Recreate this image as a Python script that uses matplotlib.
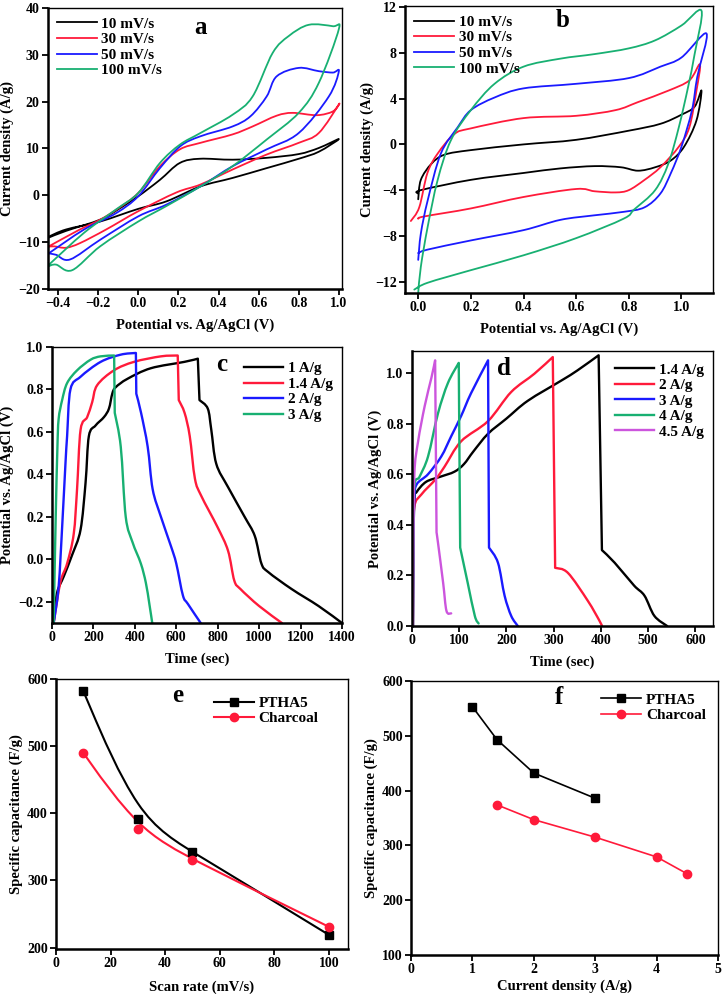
import numpy as np
import matplotlib
matplotlib.use("Agg")
import matplotlib.pyplot as plt
from matplotlib.path import Path
from matplotlib.patches import PathPatch
from matplotlib.lines import Line2D

plt.rcParams['font.family'] = ['Liberation Serif', 'DejaVu Serif']
plt.rcParams['font.weight'] = 'bold'
plt.rcParams['axes.labelweight'] = 'bold'

BLACK = '#000000'
RED = '#ff1a3a'
BLUE = '#1a1aff'
GREEN = '#18b072'
MAGENTA = '#cc55dd'

# ---------- panel a : CV of PTHA5 (potential V, current A/g) ----------
a_labels = ['10 mV/s', '30 mV/s', '50 mV/s', '100 mV/s']
a10_fwd_e = [-0.45, -0.36, -0.19, -0.1, 0.0, 0.108, 0.207, 0.307, 0.47, 0.64, 0.8, 0.9, 1.0]
a10_fwd_i = [-9.1, -7.6, -5.2, -3.0, -0.2, 3.3, 6.9, 7.8, 7.6, 8.0, 8.8, 10.1, 12.0]
a10_rev_e = [0.9, 0.8, 0.64, 0.47, 0.31, 0.14, 0.0, -0.19, -0.36, -0.45]
a10_rev_i = [9.3, 7.8, 5.8, 3.7, 1.9, -1.3, -2.9, -5.6, -7.3, -8.9]

a30_fwd_e = [-0.45, -0.3, -0.19, -0.1, 0.0, 0.108, 0.207, 0.31, 0.47, 0.57, 0.69, 0.77, 0.89, 0.97, 1.0]
a30_fwd_i = [-11.0, -7.5, -5.2, -2.8, 0.5, 6.2, 9.8, 11.2, 13.0, 14.7, 17.0, 17.6, 17.1, 17.9, 19.4]
a30_rev_e = [0.9, 0.8, 0.64, 0.47, 0.31, 0.19, 0.0, -0.16, -0.29, -0.36, -0.42, -0.45]
a30_rev_i = [13.3, 11.2, 8.7, 5.5, 2.3, 0.6, -3.4, -7.3, -10.2, -11.2, -10.9, -11.0]

a50_fwd_e = [-0.45, -0.27, -0.11, 0.0, 0.108, 0.21, 0.31, 0.47, 0.56, 0.64, 0.69, 0.8, 0.9, 0.97, 1.0]
a50_fwd_i = [-12.5, -7.3, -3.8, -0.2, 5.8, 10.5, 12.6, 14.7, 16.9, 21.1, 25.4, 27.2, 26.5, 26.2, 26.5]
a50_rev_e = [0.95, 0.8, 0.64, 0.47, 0.31, 0.14, 0.0, -0.19, -0.34, -0.41, -0.45]
a50_rev_i = [21.1, 13.3, 9.8, 6.2, 1.9, -2.0, -4.5, -9.5, -13.7, -12.7, -12.4]

a100_fwd_e = [-0.45, -0.27, -0.11, 0.0, 0.108, 0.207, 0.31, 0.47, 0.57, 0.67, 0.75, 0.85, 0.97, 1.0]
a100_fwd_i = [-15.0, -8.0, -3.0, 0.5, 6.9, 10.8, 13.3, 17.2, 21.1, 30.4, 34.0, 36.4, 36.1, 35.5]
a100_rev_e = [0.9, 0.8, 0.64, 0.47, 0.31, 0.14, 0.0, -0.19, -0.33, -0.41, -0.45]
a100_rev_i = [24.0, 17.6, 11.9, 6.2, 1.9, -2.3, -5.6, -10.9, -16.0, -14.8, -15.2]

# ---------- panel b : CV of charcoal ----------
b10_fwd_e = [0.0, 0.01, 0.05, 0.1, 0.2, 0.4, 0.6, 0.8, 0.92, 1.0, 1.05, 1.076]
b10_fwd_i = [-4.8, -3.1, -1.7, -0.9, -0.5, 0.0, 0.4, 1.2, 1.8, 2.6, 3.3, 4.7]
b10_rev_e = [1.057, 1.01, 0.96, 0.9, 0.835, 0.77, 0.67, 0.54, 0.4, 0.2, 0.01, 0.0]
b10_rev_i = [2.1, -0.2, -1.4, -2.0, -2.3, -2.0, -1.9, -2.1, -2.5, -3.1, -4.0, -4.3]

b30_fwd_e = [-0.028, 0.004, 0.035, 0.074, 0.137, 0.2, 0.4, 0.6, 0.75, 0.835, 0.95, 1.03, 1.07]
b30_fwd_i = [-6.7, -5.5, -2.5, -0.8, 0.9, 1.4, 2.3, 2.5, 3.0, 3.7, 4.7, 5.6, 7.0]
b30_rev_e = [1.057, 1.03, 0.99, 0.92, 0.86, 0.8, 0.75, 0.67, 0.6, 0.4, 0.2, 0.023, 0.0]
b30_rev_i = [4.7, 1.5, -0.2, -2.0, -3.1, -4.0, -4.2, -4.1, -3.9, -4.6, -5.6, -6.3, -6.5]

b50_fwd_e = [0.0, 0.01, 0.036, 0.086, 0.15, 0.2, 0.29, 0.4, 0.6, 0.8, 0.92, 1.0, 1.095]
b50_fwd_i = [-10.1, -7.8, -4.9, -0.8, 1.5, 3.0, 4.1, 4.9, 5.3, 5.8, 6.8, 7.6, 9.7]
b50_rev_e = [1.06, 1.04, 1.0, 0.96, 0.92, 0.86, 0.78, 0.67, 0.54, 0.4, 0.2, 0.036, 0.0]
b50_rev_i = [5.9, 3.0, -0.2, -2.5, -4.3, -5.5, -5.9, -6.2, -6.6, -7.5, -8.4, -9.2, -9.5]

b100_fwd_e = [0.0, 0.01, 0.036, 0.074, 0.124, 0.2, 0.29, 0.4, 0.54, 0.67, 0.8, 0.9, 1.0, 1.076]
b100_fwd_i = [-13.0, -10.7, -7.2, -3.1, 0.35, 3.0, 5.3, 6.8, 7.5, 7.9, 8.4, 9.1, 10.4, 11.7]
b100_rev_e = [1.05, 1.025, 0.99, 0.95, 0.9, 0.82, 0.78, 0.6, 0.4, 0.2, 0.036, -0.015]
b100_rev_i = [7.9, 5.0, 1.5, -1.7, -4.0, -5.7, -6.5, -8.2, -9.7, -11.0, -12.1, -12.7]

# ---------- panel c : GCD of PTHA5 (time s, potential V) ----------
c_labels = ['1 A/g', '1.4 A/g', '2 A/g', '3 A/g']
c1_t = [8, 24, 57, 97, 138, 162, 178, 210, 251, 275, 291, 307, 364, 477, 639, 704,
        712, 752, 769, 793, 850, 930, 979, 1011, 1044, 1157, 1287, 1400]
c1_v = [-0.3, -0.16, -0.08, 0.02, 0.14, 0.36, 0.58, 0.63, 0.67, 0.71, 0.78, 0.81, 0.85, 0.90, 0.93, 0.945,
        0.75, 0.71, 0.61, 0.45, 0.34, 0.20, 0.11, -0.02, -0.06, -0.14, -0.22, -0.3]
c14_t = [8, 40, 73, 105, 121, 138, 170, 194, 218, 299, 396, 526, 607,
         612, 640, 665, 690, 720, 800, 850, 880, 910, 1000, 1110]
c14_v = [-0.3, -0.11, -0.02, 0.12, 0.33, 0.61, 0.67, 0.74, 0.82, 0.89, 0.93, 0.956, 0.96,
         0.75, 0.69, 0.58, 0.38, 0.30, 0.15, 0.04, -0.10, -0.14, -0.22, -0.3]
c2_t = [8, 32, 50, 65, 73, 89, 138, 235, 332, 405,
        407, 430, 462, 486, 526, 575, 600, 632, 656, 718]
c2_v = [-0.3, -0.13, 0.17, 0.45, 0.58, 0.80, 0.86, 0.93, 0.964, 0.972,
        0.78, 0.69, 0.53, 0.33, 0.20, 0.06, -0.02, -0.17, -0.21, -0.3]
c3_t = [8, 18, 26, 32, 49, 73, 121, 186, 235, 300,
        303, 332, 356, 389, 429, 453, 470, 484]
c3_v = [-0.3, 0.2, 0.52, 0.66, 0.75, 0.83, 0.89, 0.94, 0.956, 0.96,
        0.69, 0.53, 0.20, 0.08, -0.02, -0.11, -0.21, -0.3]

# ---------- panel d : GCD of charcoal ----------
d_labels = ['1.4 A/g', '2 A/g', '3 A/g', '4 A/g', '4.5 A/g']
d14_t = [2, 3, 5, 10, 30, 60, 90, 110, 130, 161, 200, 245, 316, 350, 395,
         402, 429, 470, 492, 513, 540]
d14_v = [0.0, 0.3, 0.5, 0.53, 0.57, 0.59, 0.61, 0.64, 0.69, 0.76, 0.82, 0.89, 0.97, 1.01, 1.07,
         0.30, 0.25, 0.16, 0.12, 0.04, 0.0]
d2_t = [2, 3, 5, 20, 50, 69, 104, 161, 210, 259, 298,
        303, 330, 372, 397, 402]
d2_v = [0.0, 0.3, 0.47, 0.52, 0.58, 0.63, 0.73, 0.81, 0.925, 0.997, 1.063,
        0.23, 0.21, 0.10, 0.02, 0.0]
d3_t = [2, 3, 5, 10, 34, 62, 83, 104, 125, 161,
        163, 182, 196, 210, 224]
d3_v = [0.0, 0.3, 0.5, 0.56, 0.60, 0.67, 0.75, 0.83, 0.92, 1.05,
        0.31, 0.25, 0.12, 0.04, 0.0]
d4_t = [2, 3, 5, 16, 34, 55, 76, 99,
        102, 118, 133, 141]
d4_v = [0.0, 0.3, 0.55, 0.59, 0.67, 0.84, 0.96, 1.04,
        0.31, 0.17, 0.04, 0.01]
d45_t = [2, 3, 5, 13, 27, 41, 49,
         52, 55, 66, 73, 83]
d45_v = [0.0, 0.3, 0.6, 0.73, 0.87, 0.98, 1.05,
         0.37, 0.33, 0.17, 0.06, 0.05]

# ---------- panel e : capacitance vs scan rate ----------
e_scan = [10, 30, 50, 100]
e_ptha5 = [582, 391, 343, 219]
e_charcoal = [490, 376, 331, 231]

# ---------- panel f : capacitance vs current density ----------
f_ptha5_j = [1, 1.4, 2, 3]
f_ptha5 = [553, 493, 432, 386]
f_charcoal_j = [1.4, 2, 3, 4, 4.5]
f_charcoal = [374, 347, 315, 279, 248]

TICK_FS = 10
LABEL_FS = 10.5
LEG_FS = 11


def style_axes(ax):
    for side in ['left', 'bottom']:
        ax.spines[side].set_linewidth(1.8)
    for side in ['top', 'right']:
        ax.spines[side].set_linewidth(1.0)
    ax.tick_params(direction='out', length=4, width=1.3, labelsize=TICK_FS, pad=2)
    for lab in ax.get_xticklabels() + ax.get_yticklabels():
        lab.set_fontweight('bold')


def bspline_path(xs, ys):
    # uniform cubic B-spline with clamped ends, drawn as Bezier segments
    pts = np.column_stack([xs, ys]).astype(float)
    pts = np.vstack([pts[0], pts[0], pts, pts[-1], pts[-1]])
    verts, codes = [], []
    for k in range(len(pts) - 3):
        A, B, C, D = pts[k], pts[k + 1], pts[k + 2], pts[k + 3]
        if k == 0:
            verts.append((A + 4 * B + C) / 6)
            codes.append(Path.MOVETO)
        verts += [(2 * B + C) / 3, (B + 2 * C) / 3, (B + 4 * C + D) / 6]
        codes += [Path.CURVE4] * 3
    return Path(verts, codes)


def catmull_segments(pts):
    # Catmull-Rom curve through the read points, as Bezier control points
    ext = np.vstack([pts[0], pts, pts[-1]])
    verts = []
    for k in range(1, len(ext) - 2):
        P0, P1, P2, P3 = ext[k - 1], ext[k], ext[k + 1], ext[k + 2]
        verts += [P1 + (P2 - P0) / 6, P2 - (P3 - P1) / 6, P2]
    return verts


def smooth_path(xs, ys):
    pts = np.column_stack([xs, ys]).astype(float)
    verts = [pts[0]] + catmull_segments(pts)
    codes = [Path.MOVETO] + [Path.CURVE4] * (len(verts) - 1)
    return Path(verts, codes)


def gcd_path(ts, vs):
    # smooth charge branch, straight IR drop, smooth discharge branch
    pts = np.column_stack([ts, vs]).astype(float)
    p = int(np.argmax(pts[:, 1]))
    charge, discharge = pts[:p + 1], pts[p + 1:]
    verts = [charge[0]] + catmull_segments(charge)
    codes = [Path.MOVETO] + [Path.CURVE4] * (len(verts) - 1)
    verts.append(discharge[0])
    codes.append(Path.LINETO)
    seg = catmull_segments(discharge)
    verts += seg
    codes += [Path.CURVE4] * len(seg)
    return Path(verts, codes)


fig = plt.figure(figsize=(7.22, 9.94), dpi=100)

ax_a = fig.add_axes([0.0665, 0.7093, 0.407, 0.2827])
ax_b = fig.add_axes([0.561, 0.7052, 0.4266, 0.2887])
ax_c = fig.add_axes([0.072, 0.3732, 0.4017, 0.2777])
ax_d = fig.add_axes([0.5706, 0.3702, 0.4169, 0.2767])
ax_e = fig.add_axes([0.0776, 0.0453, 0.4044, 0.2716])
ax_f = fig.add_axes([0.5693, 0.0392, 0.4252, 0.2757])

leg_kw = dict(frameon=False, handlelength=2.6, handletextpad=0.3,
              labelspacing=0.12, borderaxespad=0.2, prop={'weight': 'bold', 'size': LEG_FS})


def draw_curves(ax, curves, colors, labels, make_path, lw):
    handles = []
    for (x, y), col, lab in zip(curves, colors, labels):
        ax.add_patch(PathPatch(make_path(x, y), fill=False, edgecolor=col, lw=lw,
                               joinstyle='round', capstyle='round'))
        handles.append(Line2D([], [], color=col, lw=lw, label=lab))
    return handles


# panel a
cv_a = [(a10_fwd_e + a10_rev_e, a10_fwd_i + a10_rev_i),
        (a30_fwd_e + a30_rev_e, a30_fwd_i + a30_rev_i),
        (a50_fwd_e + a50_rev_e, a50_fwd_i + a50_rev_i),
        (a100_fwd_e + a100_rev_e, a100_fwd_i + a100_rev_i)]
h = draw_curves(ax_a, cv_a, [BLACK, RED, BLUE, GREEN], a_labels, smooth_path, 1.3)
ax_a.set_xlim(-0.45, 1.015)
ax_a.set_ylim(-20, 40)
ax_a.set_xticks([-0.4, -0.2, 0.0, 0.2, 0.4, 0.6, 0.8, 1.0])
ax_a.set_yticks(np.arange(-20, 41, 10))
ax_a.set_xlabel('Potential vs. Ag/AgCl (V)', fontsize=LABEL_FS, labelpad=6)
ax_a.set_ylabel('Current density (A/g)', fontsize=LABEL_FS, labelpad=3)
ax_a.legend(handles=h, loc='upper left', bbox_to_anchor=(0.0, 1.0), **leg_kw)
ax_a.text(0.52, 0.93, 'a', transform=ax_a.transAxes, fontsize=18, fontweight='bold', ha='center', va='center')
style_axes(ax_a)

# panel b
cv_b = [(b10_fwd_e + b10_rev_e, b10_fwd_i + b10_rev_i),
        (b30_fwd_e + b30_rev_e, b30_fwd_i + b30_rev_i),
        (b50_fwd_e + b50_rev_e, b50_fwd_i + b50_rev_i),
        (b100_fwd_e + b100_rev_e, b100_fwd_i + b100_rev_i)]
h = draw_curves(ax_b, cv_b, [BLACK, RED, BLUE, GREEN], a_labels, smooth_path, 1.3)
ax_b.set_xlim(-0.05, 1.12)
ax_b.set_ylim(-13, 12.1)
ax_b.set_xticks([0.0, 0.2, 0.4, 0.6, 0.8, 1.0])
ax_b.set_yticks([-12, -8, -4, 0, 4, 8, 12])
ax_b.set_xlabel('Potential vs. Ag/AgCl (V)', fontsize=LABEL_FS, labelpad=6)
ax_b.set_ylabel('Current density (A/g)', fontsize=LABEL_FS, labelpad=1)
ax_b.legend(handles=h, loc='upper left', bbox_to_anchor=(0.0, 1.0), **leg_kw)
ax_b.text(0.51, 0.95, 'b', transform=ax_b.transAxes, fontsize=18, fontweight='bold', ha='center', va='center')
style_axes(ax_b)

# panel c
gcd_c = list(zip([c1_t, c14_t, c2_t, c3_t], [c1_v, c14_v, c2_v, c3_v]))
h = draw_curves(ax_c, gcd_c, [BLACK, RED, BLUE, GREEN], c_labels, gcd_path, 1.7)
ax_c.set_xlim(0, 1400)
ax_c.set_ylim(-0.3, 1.0)
ax_c.set_xticks(np.arange(0, 1401, 200))
ax_c.set_yticks([-0.2, 0.0, 0.2, 0.4, 0.6, 0.8, 1.0])
ax_c.set_xlabel('Time (sec)', fontsize=LABEL_FS, labelpad=6)
ax_c.set_ylabel('Potential vs. Ag/AgCl (V)', fontsize=LABEL_FS, labelpad=3)
ax_c.legend(handles=h, loc='upper right', bbox_to_anchor=(1.0, 0.98), **leg_kw)
ax_c.text(0.585, 0.935, 'c', transform=ax_c.transAxes, fontsize=18, fontweight='bold', ha='center', va='center')
style_axes(ax_c)

# panel d
gcd_d = list(zip([d14_t, d2_t, d3_t, d4_t, d45_t], [d14_v, d2_v, d3_v, d4_v, d45_v]))
h = draw_curves(ax_d, gcd_d, [BLACK, RED, BLUE, GREEN, MAGENTA], d_labels, gcd_path, 1.7)
ax_d.set_xlim(0, 637)
ax_d.set_ylim(0, 1.087)
ax_d.set_xticks(np.arange(0, 601, 100))
ax_d.set_yticks([0.0, 0.2, 0.4, 0.6, 0.8, 1.0])
ax_d.set_xlabel('Time (sec)', fontsize=LABEL_FS, labelpad=6)
ax_d.set_ylabel('Potential vs. Ag/AgCl (V)', fontsize=LABEL_FS, labelpad=3)
ax_d.legend(handles=h, loc='upper right', bbox_to_anchor=(1.0, 0.99), **leg_kw)
ax_d.text(0.305, 0.935, 'd', transform=ax_d.transAxes, fontsize=18, fontweight='bold', ha='center', va='center')
style_axes(ax_d)

# panel e
ax_e.add_patch(PathPatch(bspline_path(e_scan, e_ptha5), fill=False, edgecolor=BLACK, lw=1.5))
ax_e.add_patch(PathPatch(bspline_path(e_scan, e_charcoal), fill=False, edgecolor=RED, lw=1.5))
ax_e.plot(e_scan, e_ptha5, ls='none', marker='s', ms=5.5, color=BLACK)
ax_e.plot(e_scan, e_charcoal, ls='none', marker='o', ms=6, color=RED)
ax_e.set_xlim(0, 107)
ax_e.set_ylim(198, 600)
ax_e.set_xticks(np.arange(0, 101, 20))
ax_e.set_yticks(np.arange(200, 601, 100))
ax_e.set_xlabel('Scan rate (mV/s)', fontsize=LABEL_FS, labelpad=7)
ax_e.set_ylabel('Specific capacitance (F/g)', fontsize=LABEL_FS, labelpad=3)
e_handles = [Line2D([], [], color=BLACK, marker='s', ms=5.5, lw=1.5),
             Line2D([], [], color=RED, marker='o', ms=6, lw=1.5)]
ax_e.legend(e_handles, ['PTHA5', 'Charcoal'], loc='upper right', bbox_to_anchor=(0.93, 0.97), **leg_kw)
ax_e.text(0.418, 0.94, 'e', transform=ax_e.transAxes, fontsize=18, fontweight='bold', ha='center', va='center')
style_axes(ax_e)

# panel f
ax_f.plot(f_ptha5_j, f_ptha5, color=BLACK, marker='s', ms=5.5, lw=1.2, label='PTHA5')
ax_f.plot(f_charcoal_j, f_charcoal, color=RED, marker='o', ms=6, lw=1.2, label='Charcoal')
ax_f.set_xlim(0, 5)
ax_f.set_ylim(100, 600)
ax_f.set_xticks(np.arange(0, 6, 1))
ax_f.set_yticks(np.arange(100, 601, 100))
ax_f.set_xlabel('Current density (A/g)', fontsize=LABEL_FS, labelpad=2)
ax_f.set_ylabel('Specific capacitance (F/g)', fontsize=LABEL_FS, labelpad=3)
ax_f.legend(loc='upper right', bbox_to_anchor=(0.99, 0.99), **leg_kw)
ax_f.text(0.482, 0.94, 'f', transform=ax_f.transAxes, fontsize=18, fontweight='bold', ha='center', va='center')
style_axes(ax_f)

fig.savefig('out.png', dpi=100)
